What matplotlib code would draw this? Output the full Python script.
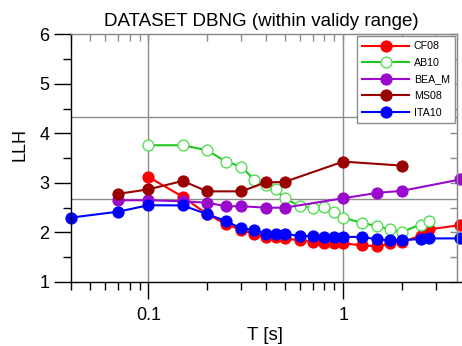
import matplotlib
matplotlib.use("Agg")
import matplotlib.pyplot as plt
from matplotlib.ticker import LogLocator, NullFormatter, MultipleLocator, FixedLocator
import numpy as np

plt.rcParams['font.family'] = ['Liberation Sans', 'DejaVu Sans']

# periods [s] and LLH values
t_cf08 = [0.1, 0.15, 0.2, 0.25, 0.3, 0.35, 0.4, 0.45, 0.5, 0.6, 0.7, 0.8, 0.9,
          1.0, 1.25, 1.5, 1.75, 2.0, 2.5, 2.75, 4.0]
llh_cf08 = [3.12, 2.72, 2.37, 2.17, 2.05, 1.97, 1.90, 1.91, 1.88, 1.84, 1.81, 1.79, 1.78,
            1.78, 1.74, 1.72, 1.78, 1.81, 1.93, 2.06, 2.15]

t_ab10 = [0.1, 0.15, 0.2, 0.25, 0.3, 0.35, 0.4, 0.45, 0.5, 0.6, 0.7, 0.8, 0.9,
          1.0, 1.25, 1.5, 1.75, 2.0, 2.5, 2.75]
llh_ab10 = [3.76, 3.76, 3.66, 3.43, 3.33, 3.06, 2.95, 2.87, 2.69, 2.53, 2.50, 2.51, 2.42,
            2.30, 2.19, 2.13, 2.06, 2.01, 2.16, 2.23]

t_bea = [0.07, 0.1, 0.15, 0.2, 0.25, 0.3, 0.4, 0.5, 1.0, 1.5, 2.0, 4.0]
llh_bea = [2.65, 2.65, 2.63, 2.60, 2.53, 2.53, 2.50, 2.50, 2.69, 2.80, 2.84, 3.07]

t_ms08 = [0.07, 0.1, 0.15, 0.2, 0.3, 0.4, 0.5, 1.0, 2.0]
llh_ms08 = [2.78, 2.87, 3.04, 2.83, 2.83, 3.01, 3.02, 3.43, 3.35]

t_ita10 = [0.04, 0.07, 0.1, 0.15, 0.2, 0.25, 0.3, 0.35, 0.4, 0.45, 0.5, 0.6, 0.7, 0.8, 0.9,
           1.0, 1.25, 1.5, 1.75, 2.0, 2.5, 2.75, 4.0]
llh_ita10 = [2.30, 2.42, 2.55, 2.545, 2.37, 2.23, 2.08, 2.05, 1.97, 1.97, 1.97, 1.93, 1.93, 1.91, 1.90,
             1.91, 1.91, 1.86, 1.84, 1.84, 1.87, 1.88, 1.88]

hgrid = [2.667, 4.333]

fig = plt.figure(figsize=(4.62, 3.46), dpi=100)
ax = fig.add_axes([71 / 462, 64 / 346, 385.7 / 462, 247.7 / 346])

ax.set_xscale('log')
ax.set_xlim(0.04, 3.83)
ax.set_ylim(1, 6)

gray = '#8c8c8c'
for v in [0.1, 1]:
    ax.axvline(v, color=gray, lw=1, zorder=0)
for h in hgrid:
    ax.axhline(h, color=gray, lw=1, zorder=0)

lw = 1.5
ms = 7.8
ax.plot(t_cf08, llh_cf08, '-o', color='#ff0000', lw=lw, ms=ms, label='CF08', clip_on=False)
ax.plot(t_ab10, llh_ab10, '-o', color='#22c422', mfc='white', mec='#55dd55', mew=1,
        lw=lw, ms=ms, label='AB10', clip_on=False)
ax.plot(t_bea, llh_bea, '-o', color='#9a0acd', lw=lw, ms=ms, label='BEA_M', clip_on=False)
ax.plot(t_ms08, llh_ms08, '-o', color='#990000', lw=lw, ms=ms, label='MS08', clip_on=False)
ax.plot(t_ita10, llh_ita10, '-o', color='#0000ff', lw=lw, ms=ms, label='ITA10', clip_on=False)

# bottom / left axes
ax.xaxis.set_major_locator(FixedLocator([0.1, 1]))
ax.set_xticklabels(['0.1', '1'])
ax.xaxis.set_minor_locator(LogLocator(subs=np.arange(2, 10)))
ax.xaxis.set_minor_formatter(NullFormatter())
ax.yaxis.set_major_locator(MultipleLocator(1))
ax.yaxis.set_minor_locator(MultipleLocator(0.5))
ax.tick_params(which='major', direction='out', length=12.5, width=1, labelsize=13,
               color='black', top=False, right=False)
ax.tick_params(axis='x', which='major', pad=5.5)
ax.tick_params(axis='y', which='major', pad=3)
ax.tick_params(which='minor', direction='out', length=5.5, width=1, top=False, right=False)
for s in ['left', 'bottom']:
    ax.spines[s].set_linewidth(1)
ax.spines['bottom'].set_bounds(0.04, 4.5)
for s in ['top', 'right']:
    ax.spines[s].set_color(gray)
    ax.spines[s].set_linewidth(1)

# top / right: gray ticks pointing inward
sx = ax.secondary_xaxis('top')
sx.xaxis.set_major_locator(FixedLocator([0.1, 1]))
sx.xaxis.set_minor_locator(LogLocator(subs=np.arange(2, 10)))
sx.xaxis.set_major_formatter(NullFormatter())
sx.xaxis.set_minor_formatter(NullFormatter())
sx.tick_params(which='both', direction='in', length=5, width=1, color=gray)
sx.spines['top'].set_color(gray)

sy = ax.secondary_yaxis('right')
sy.yaxis.set_major_locator(FixedLocator([]))
sy.yaxis.set_minor_locator(MultipleLocator(0.5))
sy.yaxis.set_minor_formatter(NullFormatter())
sy.tick_params(which='both', direction='in', length=5, width=1, color=gray)
sy.spines['right'].set_color(gray)

ax.set_title('DATASET DBNG (within validy range)', fontsize=13.5, x=0.494, y=1.035, pad=0)
ax.set_xlabel('T [s]', fontsize=13.5)
ax.xaxis.set_label_coords(0.503, -0.18)
ax.set_ylabel('LLH', fontsize=13)
ax.yaxis.set_label_coords(-0.109, 0.557)

leg = ax.legend(loc='upper left', bbox_to_anchor=(356.7 / 462, 1 - 36 / 346),
                bbox_transform=fig.transFigure, fontsize=7.7, frameon=True,
                fancybox=False, edgecolor=gray, framealpha=1, handlelength=4.4,
                handletextpad=0.45, labelspacing=0.62, borderpad=0.5, borderaxespad=0)
leg.get_frame().set_linewidth(1)

fig.savefig('out.png', dpi=100)
